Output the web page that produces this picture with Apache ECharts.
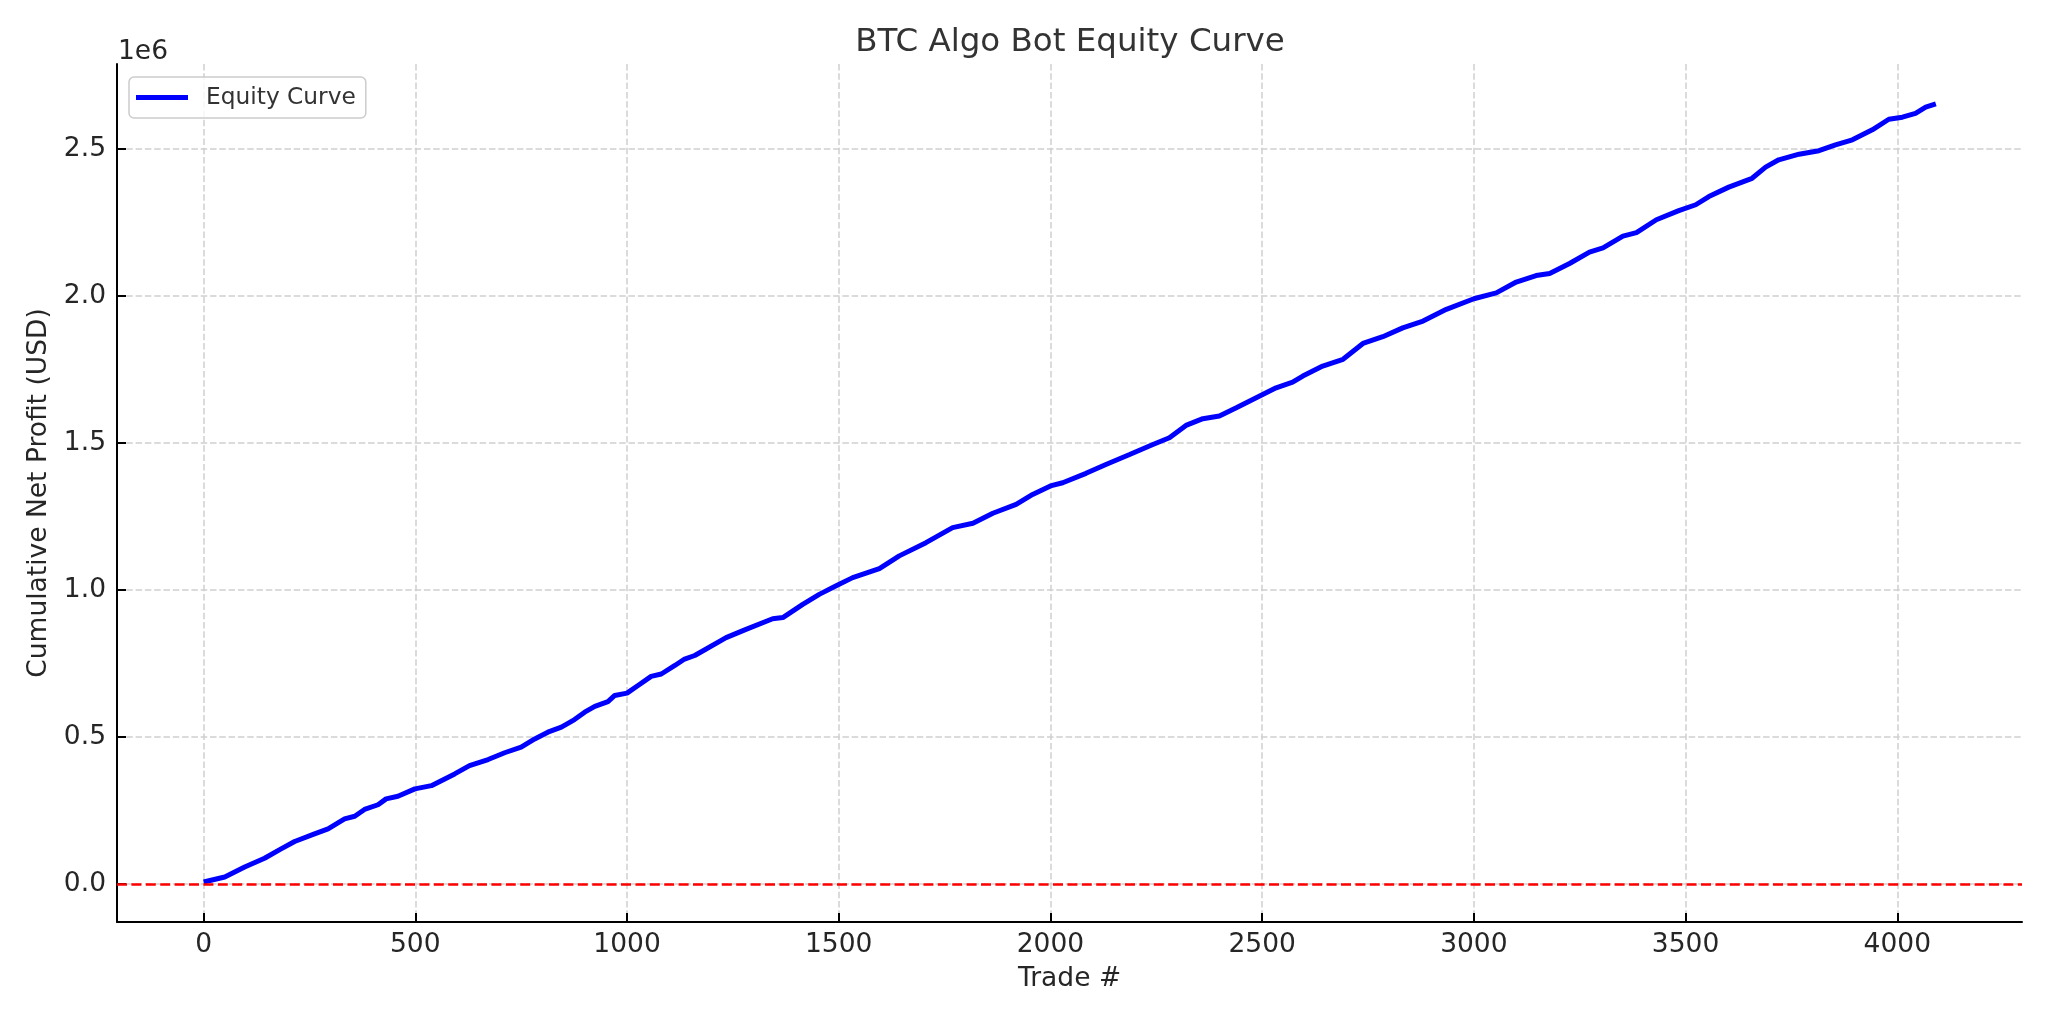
<!DOCTYPE html>
<html>
<head>
<meta charset="utf-8">
<title>BTC Algo Bot Equity Curve</title>
<script src="https://cdn.jsdelivr.net/npm/echarts@6/dist/echarts.min.js"></script>
<style>
  html, body { margin: 0; padding: 0; background: #fff; }
  #chart { width: 2048px; height: 1024px; }
</style>
</head>
<body>
<div id="chart"></div>
<script>
// values (trade number / cumulative profit in USD)
const trades = [
  0, 50, 97, 144, 183, 215, 262, 294, 333, 357, 380, 412, 431, 459, 499,
  538, 593, 628, 672, 711, 750, 782, 813, 845, 876, 900, 924, 955, 971, 1000,
  1026, 1057, 1081, 1113, 1136, 1160, 1234, 1281, 1344, 1368, 1415, 1454, 1494,
  1533, 1596, 1643, 1706, 1769, 1817, 1864, 1919, 1958, 2000, 2029, 2084, 2131,
  2187, 2242, 2281, 2320, 2360, 2399, 2439, 2486, 2533, 2572, 2596, 2643, 2691,
  2738, 2785, 2832, 2880, 2935, 3000, 3053, 3100, 3147, 3179, 3226, 3273, 3305,
  3352, 3384, 3431, 3484, 3524, 3555, 3602, 3657, 3689, 3720, 3768, 3815, 3854,
  3894, 3941, 3980, 4012, 4043, 4067, 4091
];
const equity = [
  6000, 23000, 57000, 87000, 119000, 144000, 170000, 187000, 221000, 230000,
  253000, 269000, 289000, 298000, 323000, 334000, 374000, 402000, 423000, 446000,
  465000, 493000, 516000, 533000, 559000, 584000, 604000, 620000, 641000, 649000,
  675000, 706000, 714000, 743000, 765000, 777000, 838000, 866000, 902000, 906000,
  951000, 985000, 1014000, 1042000, 1073000, 1116000, 1161000, 1212000, 1227000,
  1261000, 1291000, 1325000, 1354000, 1365000, 1397000, 1427000, 1461000, 1495000,
  1518000, 1560000, 1583000, 1592000, 1620000, 1654000, 1688000, 1707000, 1728000,
  1762000, 1785000, 1839000, 1862000, 1892000, 1915000, 1955000, 1991000, 2011000,
  2048000, 2070000, 2077000, 2111000, 2150000, 2164000, 2204000, 2216000, 2260000,
  2291000, 2311000, 2339000, 2371000, 2401000, 2439000, 2464000, 2483000, 2495000,
  2515000, 2532000, 2566000, 2602000, 2609000, 2622000, 2643000, 2654000
];
const xTicks = [0, 500, 1000, 1500, 2000, 2500, 3000, 3500, 4000];
const yTicks = [0, 500000, 1000000, 1500000, 2000000, 2500000];

const textColor = '#262626';
const font = 'DejaVu Sans';

const chart = echarts.init(document.getElementById('chart'));

const gridLine = {
  show: true,
  lineStyle: { color: '#cfcfcf', width: 1.5, type: [6.5, 2.8] }
};

chart.setOption({
  animation: false,
  backgroundColor: '#ffffff',
  textStyle: { fontFamily: font },
  title: {
    text: 'BTC Algo Bot Equity Curve',
    left: 1070,
    textAlign: 'center',
    top: 26,
    padding: 0,
    textStyle: { fontFamily: font, fontSize: 32.5, fontWeight: 'normal', color: '#333333' }
  },
  legend: {
    data: ['Equity Curve'],
    left: 129,
    top: 77,
    orient: 'vertical',
    padding: [9, 10, 9, 7],
    itemWidth: 52,
    itemHeight: 5,
    icon: 'rect',
    borderColor: '#cccccc',
    borderWidth: 1.5,
    borderRadius: 5,
    backgroundColor: 'rgba(255,255,255,0.8)',
    textStyle: { fontFamily: font, fontSize: 23.3, color: '#333333', padding: [0, 0, 0, 13] }
  },
  grid: { left: 117, right: 26, top: 64, bottom: 102, containLabel: false },
  xAxis: {
    type: 'value',
    min: -204.5,
    max: 4294.5,
    name: 'Trade #',
    nameLocation: 'middle',
    nameGap: 44,
    nameTextStyle: { fontFamily: font, fontSize: 26.5, color: textColor },
    axisLine: { show: true, onZero: false, lineStyle: { color: '#000000', width: 2 } },
    axisTick: { show: true, inside: true, length: 9, customValues: xTicks, lineStyle: { color: '#000000', width: 2 } },
    axisLabel: {
      customValues: xTicks,
      margin: 10,
      fontFamily: font,
      fontSize: 26.5,
      color: textColor,
      formatter: v => String(v)
    },
    splitLine: gridLine
  },
  yAxis: {
    type: 'value',
    min: -130000,
    max: 2790000,
    name: 'Cumulative Net Profit (USD)',
    nameLocation: 'middle',
    nameRotate: 90,
    nameGap: 62,
    nameTextStyle: { fontFamily: font, fontSize: 26.5, color: textColor },
    axisLine: { show: true, onZero: false, lineStyle: { color: '#000000', width: 2 } },
    axisTick: { show: true, inside: true, length: 9, customValues: yTicks, lineStyle: { color: '#000000', width: 2 } },
    axisLabel: {
      customValues: yTicks,
      margin: 11,
      fontFamily: font,
      fontSize: 26.5,
      color: textColor,
      formatter: v => (v / 1e6).toFixed(1)
    },
    splitLine: gridLine
  },
  graphic: [{
    type: 'text',
    left: 118,
    top: 39,
    style: { text: '1e6', font: '26.5px "DejaVu Sans"', fill: textColor }
  }],
  series: [{
    name: 'Equity Curve',
    type: 'line',
    data: trades.map((t, i) => [t, equity[i]]),
    showSymbol: false,
    symbol: 'none',
    color: '#0000ff',
    lineStyle: { color: '#0000ff', width: 5 },
    z: 3,
    markLine: {
      silent: true,
      symbol: 'none',
      label: { show: false },
      lineStyle: { color: '#ff0000', width: 2.5, type: [10, 4.4] },
      data: [{ yAxis: 0 }]
    }
  }]
});

window.addEventListener('resize', () => chart.resize());
</script>
</body>
</html>
